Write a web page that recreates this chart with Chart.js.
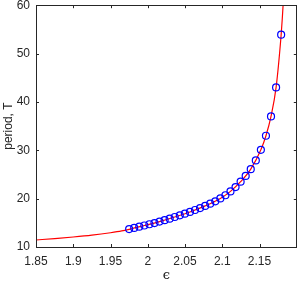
<!DOCTYPE html>
<html>
<head>
<meta charset="utf-8">
<script src="https://cdn.jsdelivr.net/npm/chart.js@4.4.1/dist/chart.umd.min.js"></script>
<style>
  html, body { margin: 0; padding: 0; background: #fff; }
  #wrap { width: 302px; height: 284px; }
</style>
</head>
<body>
<div id="wrap"><canvas id="periodChart" width="302" height="284"></canvas></div>
<script>
// computed periods (circles)
const epsMarkers = [1.975, 1.9818, 1.9886, 1.9954, 2.0022, 2.009, 2.0158, 2.0226, 2.0294, 2.0362,
    2.043, 2.0498, 2.0566, 2.0634, 2.0702, 2.077, 2.0838, 2.0906, 2.0974, 2.1042,
    2.111, 2.1178, 2.1246, 2.1314, 2.1382, 2.145, 2.1518, 2.1586, 2.1654, 2.1722, 2.179];
const periodMarkers = [13.7, 13.95, 14.2, 14.45, 14.7, 14.95, 15.25, 15.55, 15.85, 16.2,
    16.55, 16.9, 17.25, 17.65, 18.05, 18.5, 18.95, 19.45, 20.05, 20.7,
    21.5, 22.4, 23.5, 24.7, 26.1, 27.9, 30.1, 33.0, 37.0, 43.0, 53.9];

// fitted curve (red line)
const epsCurve = [1.85, 1.875, 1.9, 1.925, 1.95, 1.965, 1.975, 1.9954, 2.0158, 2.0362, 2.0566,
    2.077, 2.0974, 2.111, 2.1246, 2.1382, 2.1518, 2.1586, 2.1654, 2.1722, 2.179, 2.1805, 2.1816];
const periodCurve = [11.45, 11.75, 12.07, 12.45, 12.95, 13.32, 13.66, 14.45, 15.25, 16.2, 17.25,
    18.5, 20.05, 21.5, 23.5, 26.1, 30.1, 33.0, 37.0, 43.0, 53.9, 57.2, 60.0];

const xTicks = [1.85, 1.9, 1.95, 2, 2.05, 2.1, 2.15];
const yTicks = [10, 20, 30, 40, 50, 60];

const axisColor = '#262626';
const sansFont = '"Liberation Sans", Arial, Helvetica, sans-serif';

function toPoints(xs, ys) {
    return xs.map(function (x, i) { return { x: x, y: ys[i] }; });
}

// matlab style box with inward ticks on all four sides
const boxPlugin = {
    id: 'boxPlugin',
    afterDraw: function (chart) {
        const ctx = chart.ctx;
        const a = chart.chartArea;
        const xs = chart.scales.x;
        const ys = chart.scales.y;
        const len = 3;
        ctx.save();
        ctx.strokeStyle = axisColor;
        ctx.lineWidth = 1;
        ctx.beginPath();
        xTicks.forEach(function (v) {
            const px = Math.round(xs.getPixelForValue(v)) + 0.5;
            ctx.moveTo(px, a.bottom); ctx.lineTo(px, a.bottom - len);
            ctx.moveTo(px, a.top); ctx.lineTo(px, a.top + len);
        });
        yTicks.forEach(function (v) {
            const py = Math.round(ys.getPixelForValue(v)) + 0.5;
            ctx.moveTo(a.left, py); ctx.lineTo(a.left + len, py);
            ctx.moveTo(a.right, py); ctx.lineTo(a.right - len, py);
        });
        ctx.stroke();
        ctx.strokeRect(Math.round(a.left) + 0.5, Math.round(a.top) + 0.5,
            Math.round(a.right - a.left) - 1, Math.round(a.bottom - a.top));
        ctx.restore();
    }
};

const ctx = document.getElementById('periodChart').getContext('2d');
new Chart(ctx, {
    type: 'scatter',
    data: {
        datasets: [{
            label: 'computed',
            data: toPoints(epsMarkers, periodMarkers),
            showLine: false,
            pointStyle: 'circle',
            pointRadius: 3.5,
            pointBorderWidth: 1.2,
            pointBorderColor: '#0000ff',
            pointBackgroundColor: 'rgba(0,0,0,0)',
            order: 0
        }, {
            label: 'fit',
            data: toPoints(epsCurve, periodCurve),
            showLine: true,
            borderColor: '#ff0000',
            borderWidth: 1.2,
            pointRadius: 0,
            cubicInterpolationMode: 'monotone',
            order: 1
        }]
    },
    options: {
        responsive: false,
        animation: false,
        layout: { padding: { top: 5, right: 1, left: 0, bottom: 0 } },
        plugins: {
            legend: { display: false },
            tooltip: { enabled: false }
        },
        scales: {
            x: {
                type: 'linear',
                min: 1.85,
                max: 2.2,
                afterBuildTicks: function (scale) {
                    scale.ticks = xTicks.map(function (v) { return { value: v }; });
                },
                afterFit: function (scale) {
                    scale.height = 37;
                    scale.paddingLeft = 0;
                    scale.paddingRight = 0;
                },
                grid: { display: false, drawTicks: false, tickLength: 0 },
                border: { display: false },
                ticks: {
                    color: axisColor,
                    font: { family: sansFont, size: 12 },
                    padding: 7,
                    maxRotation: 0,
                    autoSkip: false,
                    callback: function (v) { return String(Number(v.toFixed(2))); }
                },
                title: {
                    display: true,
                    text: 'ϵ',
                    color: axisColor,
                    font: { family: '"DejaVu Serif", "Liberation Serif", serif', size: 13 },
                    padding: { top: 0, bottom: 1 }
                }
            },
            y: {
                type: 'linear',
                min: 10,
                max: 60,
                afterBuildTicks: function (scale) {
                    scale.ticks = yTicks.map(function (v) { return { value: v }; });
                },
                afterFit: function (scale) {
                    scale.width = 36;
                    scale.paddingTop = 0;
                    scale.paddingBottom = 0;
                },
                grid: { display: false, drawTicks: false, tickLength: 0 },
                border: { display: false },
                ticks: {
                    color: axisColor,
                    font: { family: sansFont, size: 12 },
                    padding: 6
                },
                title: {
                    display: true,
                    text: 'period, T',
                    color: axisColor,
                    font: { family: sansFont, size: 12 },
                    padding: { top: 1, bottom: 0 }
                }
            }
        }
    },
    plugins: [boxPlugin]
});
</script>
</body>
</html>
